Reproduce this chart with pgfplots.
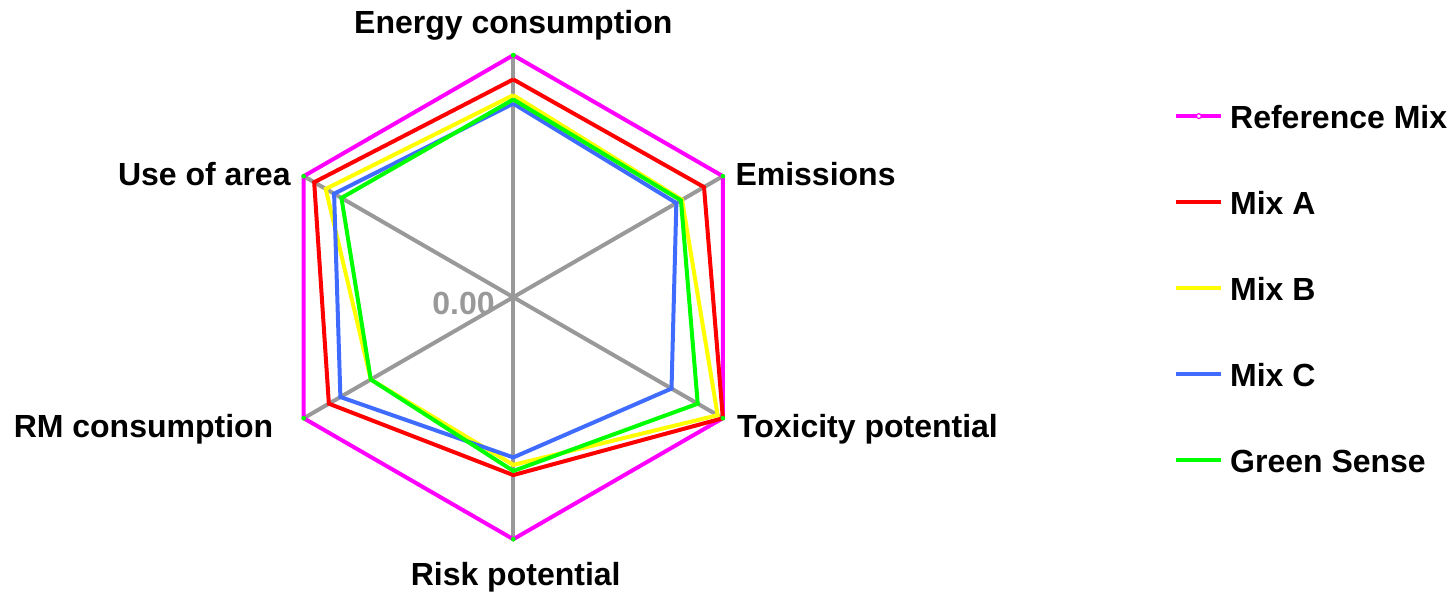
\documentclass[border=0pt]{standalone}
\usepackage{pgfplots}
\pgfplotsset{compat=1.18}
\usepgfplotslibrary{polar}
\usepackage{fontspec}
\setmainfont{Liberation Sans}
\definecolor{cRef}{HTML}{FF00FF}
\definecolor{cA}{HTML}{FF0000}
\definecolor{cB}{HTML}{FFFF00}
\definecolor{cC}{HTML}{3F6CFF}
\definecolor{cG}{HTML}{00FF00}
\definecolor{cSpoke}{HTML}{999999}
\newcommand{\lbl}{\bfseries\fontsize{16}{18}\selectfont}
\begin{document}
\begin{tikzpicture}
\useasboundingbox (-256.65pt,-147.9pt) rectangle (470.35pt,148.6pt);
\begin{polaraxis}[
  at={(0pt,0pt)}, anchor=center,
  scale only axis, width=242pt, height=242pt,
  xmin=0, xmax=360, ymin=0, ymax=1,
  hide axis, clip=false,
  legend image code/.code={\draw[#1] (0pt,0pt) -- (22.5pt,0pt);},
  legend style={at={(1.8650,0.9068)}, anchor=north west, draw=none, fill=none,
    inner sep=0pt, row sep=27.6pt, column sep=3.4pt,
    font=\lbl, nodes={inner sep=0pt, text height=14pt, text depth=1.4pt}},
  legend cell align=left,
]
% spokes
\addplot[cSpoke, line width=2pt, forget plot] coordinates {(90,1) (270,1)};
\addplot[cSpoke, line width=2pt, forget plot] coordinates {(30,1) (210,1)};
\addplot[cSpoke, line width=2pt, forget plot] coordinates {(150,1) (330,1)};
% Reference Mix
\addplot[cRef, line width=2pt, mark=*, mark size=1pt, mark options={fill=cG, draw=cG, line width=0.3pt},
  legend image code/.code={\draw[cRef, line width=2pt] (0pt,0pt) -- (22.5pt,0pt);
    \draw[cRef, fill=white, line width=0.6pt] (11.25pt,0pt) circle (1.2pt);}]
  coordinates {(90,1) (30,1) (330,1) (270,1) (210,1) (150,1) (90,1)};
\addlegendentry{Reference Mix}
% Mix A
\addplot[cA, line width=2pt]
  coordinates {(90,0.900) (30,0.910) (330,1.000) (270,0.735) (210,0.880) (150,0.950) (90,0.900)};
\addlegendentry{Mix A}
% Mix B
\addplot[cB, line width=2pt]
  coordinates {(90,0.835) (30,0.805) (330,0.975) (270,0.693) (210,0.680) (150,0.895) (90,0.835)};
\addlegendentry{Mix B}
% Mix C
\addplot[cC, line width=2pt]
  coordinates {(90,0.800) (30,0.778) (330,0.755) (270,0.662) (210,0.825) (150,0.855) (90,0.800)};
\addlegendentry{Mix C}
% Green Sense
\addplot[cG, line width=2pt]
  coordinates {(90,0.817) (30,0.800) (330,0.880) (270,0.718) (210,0.680) (150,0.820) (90,0.817)};
\addlegendentry{Green Sense}
\end{polaraxis}
\node[anchor=base, inner sep=0pt, font=\lbl] at (0pt,131.95pt) {Energy consumption};
\node[anchor=base west, inner sep=0pt, font=\lbl] at (110.9pt,55.6pt) {Emissions};
\node[anchor=base west, inner sep=0pt, font=\lbl] at (111.7pt,-70.05pt) {Toxicity potential};
\node[anchor=base west, inner sep=0pt, font=\lbl] at (-51.45pt,-143.9pt) {Risk potential};
\node[anchor=base east, inner sep=0pt, font=\lbl] at (-119.8pt,-70.05pt) {RM consumption};
\node[anchor=base east, inner sep=0pt, font=\lbl] at (-111.15pt,55.6pt) {Use of area};
\node[anchor=base east, inner sep=0pt, font=\lbl, text=cSpoke] at (-9.15pt,-8.55pt) {0.00};
\end{tikzpicture}
\end{document}
